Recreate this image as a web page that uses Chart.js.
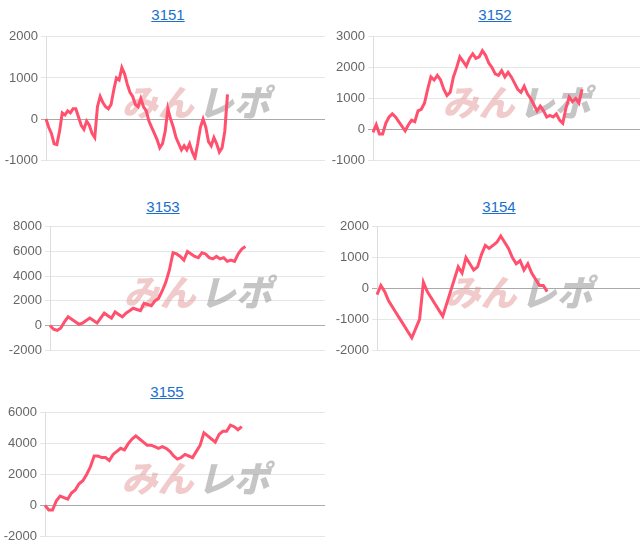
<!DOCTYPE html>
<html><head><meta charset="utf-8">
<script src="https://cdn.jsdelivr.net/npm/chart.js@4"></script>
<style>
body{margin:0;background:#fff;font-family:Arial,"Liberation Sans",sans-serif;}
.t{position:absolute;font-size:15px;color:#1a6fcf;text-decoration:underline;transform:translateX(-50%);}
.c{position:absolute;}
</style></head><body>
<script>
const titles=["3151","3152","3153","3154","3155"];
const s3151=[0,-200,-350,-600,-620,-300,150,100,200,150,250,250,50,-150,-250,-50,-150,-350,-450,300,550,400,300,250,350,700,1000,950,1250,1100,850,650,550,350,300,500,300,200,-50,-200,-350,-500,-700,-600,-300,250,0,-200,-450,-600,-750,-650,-750,-600,-800,-950,-600,-200,0,-200,-550,-650,-450,-600,-800,-700,-300,600];
const s3152=[-100,150,-150,-150,200,400,500,400,250,100,-50,150,300,250,600,650,850,1300,1700,1600,1750,1600,1300,1100,1200,1700,2000,2350,2200,2050,2300,2450,2300,2350,2550,2400,2150,2000,1800,1750,1900,1700,1850,1700,1500,1300,1200,1400,1150,1000,800,600,750,600,400,450,400,500,300,200,700,1050,900,1000,850,1300];
const s3153=[0,-300,-400,-200,300,700,500,300,100,200,400,600,400,200,600,1000,800,600,1100,900,700,1000,1200,1400,1300,1200,1800,1700,1600,2000,2200,2800,3500,4500,5900,5800,5600,5300,6000,5800,5600,5500,5900,5800,5500,5400,5600,5400,5500,5200,5300,5200,5800,6200,6400];
const s3154=[-200,100,-100,-400,-600,-800,-1000,-1200,-1400,-1600,-1300,-1000,200,-100,-300,-500,-700,-900,-500,-100,300,700,500,1000,800,600,700,1100,1400,1300,1400,1500,1700,1500,1300,1000,800,900,600,800,500,300,100,100,-100];
const s3155=[0,-300,-300,300,600,500,400,800,1000,1400,1600,2000,2500,3200,3200,3100,3100,2900,3300,3500,3700,3600,4000,4300,4500,4300,4100,3900,3900,3800,3700,3800,3700,3500,3200,3000,3100,3300,3200,3100,3500,3900,4700,4500,4300,4100,4600,4800,4800,5200,5100,4900,5100];
const series=[s3151,s3152,s3153,s3154,s3155];
const labelCounts=[104,84,77,69,75];
const yMin=[-1000,-1000,-2000,-2000,-2000], yMax=[2000,3000,8000,2000,6000], yStep=[1000,1000,2000,1000,2000];
const cfg=[
 [0,26,325,168,6,46],[320,26,320,495,6,53],
 [0,216,325,163,198,50],[320,216,320,499,198,57],
 [0,402,325,167,383,45]];
const wm={id:'wm',beforeDatasetsDraw(ch){const a=ch.chartArea,c=ch.ctx;c.save();
 const cx=a.left+(a.right-a.left)*0.53, cy=(a.top+a.bottom)/2+4;
 c.font='italic 900 36px "Noto Sans CJK JP"';c.textBaseline='middle';
 c.fillStyle='rgba(225,140,140,0.45)';c.textAlign='right';c.fillText('みん',cx,cy);
 c.fillStyle='rgba(150,150,150,0.55)';c.textAlign='left';c.fillText('レポ',cx+4,cy);c.restore();}};
series.forEach((d,i)=>{
 const [l,t,w,tx,ty,aw]=cfg[i];
 const a=document.createElement('a');a.className='t';a.textContent=titles[i];a.style.left=tx+'px';a.style.top=ty+'px';document.body.appendChild(a);
 const dv=document.createElement('div');dv.className='c';dv.style.cssText=`left:${l}px;top:${t}px;width:${w}px;height:145px`;
 const cv=document.createElement('canvas');dv.appendChild(cv);document.body.appendChild(dv);
 const labels=Array.from({length:labelCounts[i]},(_,k)=>k);
 new Chart(cv,{type:'line',data:{labels,datasets:[{data:d,borderColor:'rgb(255,80,110)',borderWidth:3,pointRadius:0,tension:0,fill:false}]},
 options:{animation:false,responsive:true,maintainAspectRatio:false,layout:{padding:{top:8,bottom:8,right:0}},
  plugins:{legend:{display:false},tooltip:{enabled:false}},
  scales:{x:{display:false},y:{min:yMin[i],max:yMax[i],afterFit(s){s.width=aw;},
   ticks:{stepSize:yStep[i],color:'#666',font:{size:13,family:'Arial'},callback:v=>String(v)},
   grid:{color:c=>c.tick&&c.tick.value===0?'#aaa':'#e6e6e6',drawTicks:true,tickLength:5},border:{color:'#ddd'}}}},plugins:[wm]});
});
</script></body></html>
